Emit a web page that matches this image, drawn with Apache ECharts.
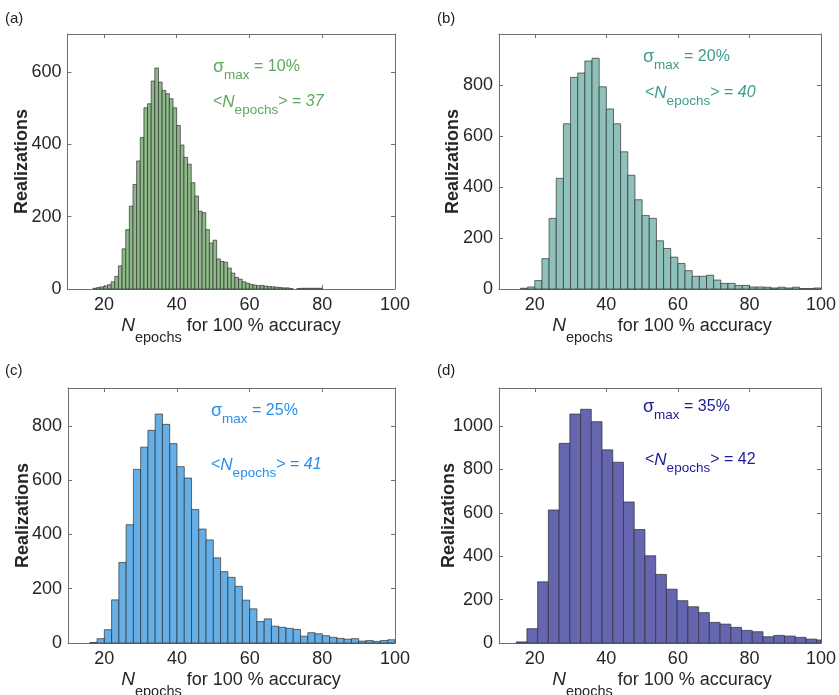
<!DOCTYPE html>
<html><head><meta charset="utf-8">
<script src="https://cdn.jsdelivr.net/npm/echarts@6/dist/echarts.min.js"></script>
<style>html,body{margin:0;padding:0;background:#fff}#c{width:839px;height:695px}</style>
</head><body><div id="c"></div>
<script>
// ---------- data ----------
const xTickValues = [20, 40, 60, 80, 100];
const aTicksY = [0, 200, 400, 600];
const bTicksY = [0, 200, 400, 600, 800];
const cTicksY = [0, 200, 400, 600, 800];
const dTicksY = [0, 200, 400, 600, 800, 1000];

// (a) sigma_max = 10%, bins of width 1 starting at 17
const aBinStart = 17, aBinWidth = 1;
const aCounts = [2,4,6,8,12,20,35,64,111,164,229,289,354,419,501,512,575,611,572,549,540,526,501,452,398,364,345,294,257,215,211,164,127,135,83,76,74,58,44,32,27,20,16,13,11,9,10,8,7,6,5,4,3,3,1,0,1,2,2,2,2,2,2];
// (b) sigma_max = 20%, bins of width 2 starting at 16
const bBinStart = 16, bBinWidth = 2;
const bCounts = [3,8,33,119,277,434,648,830,847,894,905,793,706,648,538,446,350,288,277,189,159,125,100,72,50,50,54,35,22,22,14,14,8,8,7,4,7,4,7,2,2,4];
// (c) sigma_max = 25%, bins of width 2 starting at 16
const cBinStart = 16, cBinWidth = 2;
const cCounts = [2,16,49,159,297,436,640,722,784,844,806,735,650,608,492,420,380,314,263,242,209,158,126,79,89,62,58,54,50,25,38,34,27,21,17,14,16,7,9,6,9,12];
// (d) sigma_max = 35%, bins of width 3 starting at 14.8
const dBinStart = 14.8, dBinWidth = 3;
const dCounts = [5,66,282,613,920,1055,1077,1020,890,833,650,523,402,316,248,195,167,140,95,87,72,58,52,29,35,32,26,18,14];

const panelLabels = ['(a)', '(b)', '(c)', '(d)'];
const sigmaValues = ['10%', '20%', '25%', '35%'];
const meanEpochs = ['37', '40', '41', '42'];
const yMaxes = [705, 1000, 940, 1175];

// ---------- styling / layout ----------
const FONT = '"Liberation Sans", Arial, Helvetica, sans-serif';
const axisColor = '#707070';
const labelColor = '#262626';
const panels = [
  {counts: aCounts, start: aBinStart, width: aBinWidth, yTicks: aTicksY, fill: '#8eba89', txt: '#5ca85c',
   grid: {left: 67.5, top: 34, width: 327.5, height: 255}, nameGap: 36, lab: [5, 19], sig: [213, 67], mean: [213, 102], title: [231, 326]},
  {counts: bCounts, start: bBinStart, width: bBinWidth, yTicks: bTicksY, fill: '#8fc1ba', txt: '#3d9c8e',
   grid: {left: 499, top: 34, width: 326, height: 255}, nameGap: 37, lab: [437, 19], sig: [643, 57], mean: [645, 93], title: [662, 326]},
  {counts: cCounts, start: cBinStart, width: cBinWidth, yTicks: cTicksY, fill: '#65afe6', txt: '#2590ee',
   grid: {left: 68, top: 388, width: 327, height: 255}, nameGap: 36, lab: [5, 371], sig: [211, 411], mean: [211, 465], title: [231, 680]},
  {counts: dCounts, start: dBinStart, width: dBinWidth, yTicks: dTicksY, fill: '#6565b0', txt: '#1c1c96',
   grid: {left: 499, top: 388, width: 326, height: 255}, nameGap: 41, lab: [437, 371], sig: [643, 407], mean: [645, 460], title: [662, 680]}
];

const grids = [], xAxes = [], yAxes = [], series = [], graphics = [];
panels.forEach((p, i) => {
  grids.push(Object.assign({containLabel: false}, p.grid));
  const tickStyle = {inside: true, length: 4, lineStyle: {color: axisColor, width: 1}};
  xAxes.push({
    gridIndex: i, type: 'value', min: 10, max: 100, position: 'bottom',
    axisLine: {show: true, onZero: false, lineStyle: {color: axisColor, width: 1}},
    axisTick: Object.assign({show: true, customValues: xTickValues}, tickStyle),
    axisLabel: {show: true, customValues: xTickValues, fontSize: 18, color: labelColor, margin: 7, fontFamily: FONT,
      formatter: v => String(v)},
    splitLine: {show: false}
  });
  xAxes.push({
    gridIndex: i, type: 'value', min: 10, max: 100, position: 'top',
    axisLine: {show: true, onZero: false, lineStyle: {color: axisColor, width: 1}},
    axisTick: Object.assign({show: true, customValues: xTickValues}, tickStyle),
    axisLabel: {show: false}, splitLine: {show: false}
  });
  yAxes.push({
    gridIndex: i, type: 'value', min: 0, max: yMaxes[i], position: 'left',
    axisLine: {show: true, onZero: false, lineStyle: {color: axisColor, width: 1}},
    axisTick: Object.assign({show: true, customValues: p.yTicks}, tickStyle),
    axisLabel: {show: true, customValues: p.yTicks, fontSize: 18, color: labelColor, margin: 6, fontFamily: FONT,
      formatter: v => String(v)},
    splitLine: {show: false},
    name: 'Realizations', nameLocation: 'middle', nameGap: p.nameGap, nameMoveOverlap: false,
    nameTextStyle: {fontSize: 18, fontWeight: 'bold', color: labelColor, fontFamily: FONT}
  });
  yAxes.push({
    gridIndex: i, type: 'value', min: 0, max: yMaxes[i], position: 'right',
    axisLine: {show: true, onZero: false, lineStyle: {color: axisColor, width: 1}},
    axisTick: Object.assign({show: true, customValues: p.yTicks}, tickStyle),
    axisLabel: {show: false}, splitLine: {show: false}
  });
  const data = p.counts.map((c, k) => [p.start + k * p.width, p.start + (k + 1) * p.width, c]);
  series.push({
    type: 'custom', xAxisIndex: 2 * i, yAxisIndex: 2 * i, data: data,
    encode: {x: [0, 1], y: 2},
    renderItem: function (params, api) {
      const x0 = api.value(0), x1 = api.value(1), v = api.value(2);
      if (!v) return null;
      const pA = api.coord([x0, v]);
      const pB = api.coord([x1, 0]);
      const cs = params.coordSys;
      const r = echarts.graphic.clipRectByRect(
        {x: pA[0], y: pA[1], width: pB[0] - pA[0], height: pB[1] - pA[1]},
        {x: cs.x, y: cs.y, width: cs.width, height: cs.height});
      if (!r) return null;
      return {type: 'rect', shape: r, style: {fill: p.fill, stroke: 'rgba(45,45,45,0.85)', lineWidth: 0.8}};
    }
  });
  // panel label
  graphics.push({type: 'text', x: p.lab[0], y: p.lab[1],
    style: {text: panelLabels[i], font: '15px ' + FONT, fill: '#222', textVerticalAlign: 'middle'}});
  // sigma annotation
  graphics.push({type: 'text', x: p.sig[0], y: p.sig[1],
    style: {text: '{s|σ}{sub|max}{t| = ' + sigmaValues[i] + '}', textVerticalAlign: 'middle',
      rich: {
        s: {fontSize: 18, fill: p.txt, fontFamily: FONT},
        sub: {fontSize: 13.5, fill: p.txt, fontFamily: FONT, padding: [16, 0, 0, 0]},
        t: {fontSize: 16, fill: p.txt, fontFamily: FONT}
      }}});
  // mean annotation
  graphics.push({type: 'text', x: p.mean[0], y: p.mean[1],
    style: {text: '{t|<}{n|N}{sub|epochs}{t|> = }{m|' + meanEpochs[i] + '}', textVerticalAlign: 'middle',
      rich: {
        t: {fontSize: 16, fill: p.txt, fontFamily: FONT},
        n: {fontSize: 17, fill: p.txt, fontFamily: FONT, fontStyle: 'italic'},
        sub: {fontSize: 13.5, fill: p.txt, fontFamily: FONT, padding: [16, 0, 0, 0]},
        m: {fontSize: 16, fill: p.txt, fontFamily: FONT, fontStyle: i < 3 ? 'italic' : 'normal'}
      }}});
  // x axis title
  graphics.push({type: 'text', x: p.title[0], y: p.title[1],
    style: {text: '{n|N}{sub|epochs}{t| for 100 % accuracy}', textAlign: 'center', textVerticalAlign: 'middle',
      rich: {
        n: {fontSize: 19, fill: labelColor, fontFamily: FONT, fontStyle: 'italic'},
        sub: {fontSize: 14.5, fill: labelColor, fontFamily: FONT, padding: [24, 0, 0, 0]},
        t: {fontSize: 18, fill: labelColor, fontFamily: FONT}
      }}});
});

const chart = echarts.init(document.getElementById('c'), null, {renderer: 'canvas'});
chart.setOption({
  backgroundColor: '#ffffff',
  animation: false,
  grid: grids, xAxis: xAxes, yAxis: yAxes, series: series, graphic: graphics
});
</script>
</body></html>
